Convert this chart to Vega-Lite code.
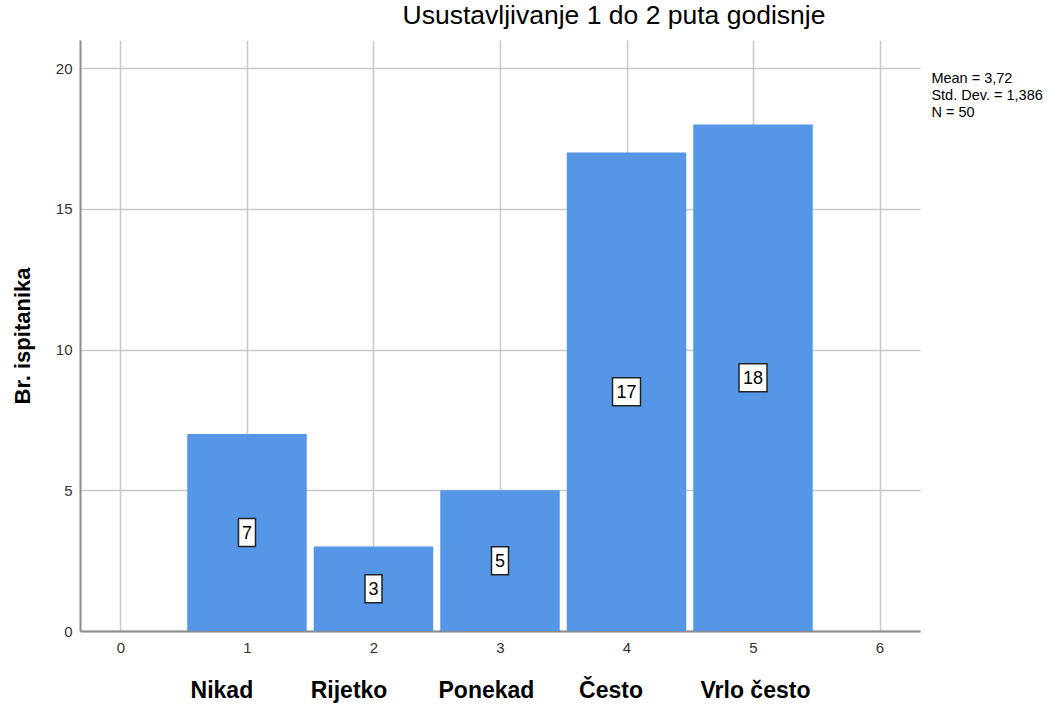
{
  "$schema": "https://vega.github.io/schema/vega-lite/v6.json",
  "autosize": "none",
  "width": 840,
  "height": 591,
  "padding": {"left": 80, "top": 40, "right": 139, "bottom": 73},
  "background": "white",
  "config": {
    "font": "Liberation Sans",
    "view": {"stroke": null},
    "axis": {
      "domainColor": "#8c8c8c",
      "domainWidth": 2,
      "gridColor": "#c8c8c8",
      "gridWidth": 1.5,
      "ticks": false,
      "labelFont": "Liberation Sans",
      "labelFontSize": 15,
      "labelColor": "#333333",
      "titleFont": "Liberation Sans",
      "titleColor": "#000000",
      "titleFontWeight": "bold"
    }
  },
  "title": {
    "text": "Usustavljivanje 1 do 2 puta godisnje",
    "font": "Liberation Sans",
    "fontSize": 26.5,
    "fontWeight": "normal",
    "color": "#000000",
    "anchor": "middle",
    "dx": 114,
    "offset": 11
  },
  "data": {
    "values": [
      {"value": 1, "count": 7},
      {"value": 2, "count": 3},
      {"value": 3, "count": 5},
      {"value": 4, "count": 17},
      {"value": 5, "count": 18}
    ]
  },
  "layer": [
    {
      "mark": {"type": "bar", "width": 119.5, "color": "#5596e6"},
      "encoding": {
        "x": {
          "field": "value",
          "type": "quantitative",
          "scale": {"domain": [-0.32, 6.32], "nice": false, "zero": false, "padding": 0},
          "axis": {
            "values": [0, 1, 2, 3, 4, 5, 6],
            "format": "d",
            "labelPadding": 9,
            "title": "Nikad\u00a0\u00a0\u00a0\u00a0\u00a0\u00a0\u00a0\u00a0\u00a0Rijetko\u00a0\u00a0\u00a0\u00a0\u00a0\u00a0\u00a0\u00a0Ponekad\u00a0\u00a0\u00a0\u00a0\u00a0\u00a0\u00a0Često\u00a0\u00a0\u00a0\u00a0\u00a0\u00a0\u00a0\u00a0\u00a0Vrlo\u00a0često",
            "titleFontSize": 23,
            "titlePadding": 24,
            "titleX": 420
          }
        },
        "y": {
          "field": "count",
          "type": "quantitative",
          "scale": {"domain": [0, 21], "nice": false},
          "axis": {
            "values": [0, 5, 10, 15, 20],
            "labelPadding": 8,
            "title": "Br. ispitanika",
            "titleFontSize": 22,
            "titlePadding": 21
          }
        }
      }
    },
    {
      "transform": [{"calculate": "datum.count / 2", "as": "mid"}],
      "mark": {"type": "point", "filled": true, "fill": "white", "stroke": "#222222", "strokeWidth": 1.5, "opacity": 1, "size": 400},
      "encoding": {
        "x": {"field": "value", "type": "quantitative"},
        "y": {"field": "mid", "type": "quantitative"},
        "shape": {
          "condition": {"test": "datum.count >= 10", "value": "M-1.4,-1.4H1.4V1.4H-1.4Z"},
          "value": "M-0.85,-1.4H0.85V1.4H-0.85Z"
        }
      }
    },
    {
      "transform": [{"calculate": "datum.count / 2", "as": "mid"}],
      "mark": {"type": "text", "fontSize": 18, "fontWeight": "normal", "color": "#000000", "baseline": "middle", "align": "center", "dy": 1},
      "encoding": {
        "x": {"field": "value", "type": "quantitative"},
        "y": {"field": "mid", "type": "quantitative"},
        "text": {"field": "count", "type": "quantitative"}
      }
    },
    {
      "data": {"values": [{"stats": "Mean = 3,72|Std. Dev. = 1,386|N = 50"}]},
      "mark": {"type": "text", "align": "left", "baseline": "top", "fontSize": 14.5, "fontWeight": "normal", "lineHeight": 17, "color": "#000000", "lineBreak": "|"},
      "encoding": {
        "x": {"datum": 6.41},
        "y": {"datum": 19.86},
        "text": {"field": "stats", "type": "nominal"}
      }
    }
  ]
}
